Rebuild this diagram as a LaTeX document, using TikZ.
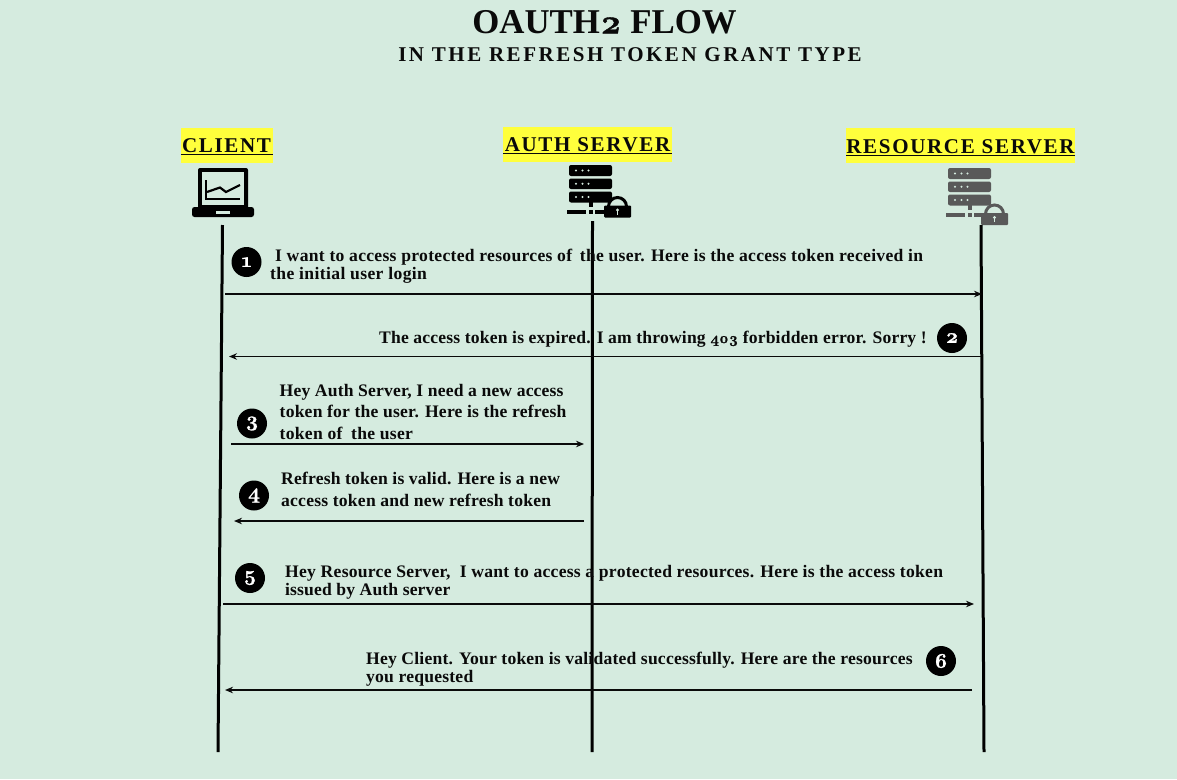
\documentclass[tikz,border=0pt]{standalone}
\usepackage{fontspec}
\setmainfont{Liberation Serif}
\newfontfamily\osnum[Numbers=OldStyle,BoldFeatures={FakeBold=1.2}]{Latin Modern Roman}
\usetikzlibrary{arrows.meta}
\definecolor{bgc}{HTML}{D5EBDF}
\definecolor{hl}{HTML}{FFFF3C}
\definecolor{ink}{HTML}{0A0A0A}
\newcommand{\fsz}[1]{\fontsize{#1}{#1}\selectfont}
\newcommand{\od}[1]{{\osnum\bfseries #1}}
\tikzset{
  life/.style={line width=3pt,draw=black},
  msg/.style={line width=1.3pt,draw=ink,-{Stealth[length=8pt,width=6.5pt]}},
  txt/.style={inner sep=0pt,anchor=base west,font=\fsz{17.6}\bfseries\addfontfeature{LetterSpace=#1},text=ink},
  num/.style={circle,fill=black,text=white,minimum size=30pt,inner sep=0pt,font=\fsz{21}\bfseries},
  headtxt/.style={inner sep=0pt,anchor=base,font=\fsz{21}\bfseries,text=ink},
  headbar/.style={line width=.9pt,draw=ink},
  pics/server/.style={code={
    \fill[#1,rounded corners=2pt] (0,0) rectangle (43,11);
    \fill[#1,rounded corners=2pt] (0,13.5) rectangle (43,24);
    \fill[#1,rounded corners=2pt] (0,26.5) rectangle (43,37.5);
    \foreach \yy in {5.5,18.8,32}{\foreach \xx in {7,13.5,19.5}{\fill[bgc] (\xx,\yy) circle (1.1pt);}}
    \fill[#1] (19.5,37) rectangle (23.5,42);
    \fill[#1] (-2,44.5) rectangle (17,48.5);
    \fill[#1] (19.5,44.5) rectangle (23.5,48.5);
    \fill[#1] (26,44.5) rectangle (38,48.5);
  }},
  pics/padlock/.style={code={
    \draw[#1,line width=3pt] (4.5,11) arc[start angle=180,end angle=360,radius=9];
    \fill[#1,rounded corners=1pt] (0,10) rectangle (27,22);
    \fill[bgc] (13.5,14.5) circle (1.6pt);
    \fill[bgc] (12.6,15) rectangle (14.4,19);
  }},
}
\begin{document}
\begin{tikzpicture}[x=1pt,y=-1pt]
\useasboundingbox[fill=bgc] (0,0) rectangle (1177,779);
% titles
\node[inner sep=0pt,anchor=base,font=\fsz{34.8}\bfseries,text=ink] (title) at (604.5,33.5) {OAUTH\od{2} FLOW};
\node[inner sep=0pt,anchor=base,font=\fsz{21}\bfseries,text=ink] (subtitle) at (630,61) {\addfontfeature{LetterSpace=12}IN THE REFRESH TOKEN GRANT TYPE};
% headers
\fill[hl] (181,128) rectangle (273,163);
\fill[hl] (503,127) rectangle (672,162);
\fill[hl] (846,128) rectangle (1075,163);
\node[headtxt] (client) at (226.5,152) {\addfontfeature{LetterSpace=8}CLIENT};
\node[headtxt] (auth) at (587.5,151) {\addfontfeature{LetterSpace=8}AUTH SERVER};
\node[headtxt] (res) at (960.5,153) {\addfontfeature{LetterSpace=8}RESOURCE SERVER};
\draw[headbar] (181,154.5) -- (273,154.5);
\draw[headbar] (503,153) -- (672,153);
\draw[headbar] (846,155.5) -- (1075,155.5);
% laptop
\fill[black,rounded corners=2pt] (198,168) rectangle (248,209);
\fill[bgc] (202,172) rectangle (244,205);
\draw[black,line width=2.2pt] (206,180) -- (206,199) -- (240,199);
\draw[black,line width=2.2pt] (207,192) -- (220,187.5) -- (226,192) -- (240,185);
\fill[black,rounded corners=2.5pt] (192,207) rectangle (254,217);
\fill[bgc] (216,211) rectangle (230,213.5);
% servers
\pic at (569,165) {server=black};
\pic at (604,195.5) {padlock=black};
\pic at (948,168) {server=black!65};
\pic at (981,203) {padlock=black!65};
% lifelines
\coordinate (c0) at (222.5,225); \coordinate (c1) at (218,752);
\coordinate (a0) at (592.5,221); \coordinate (a1) at (592,752);
\coordinate (r0) at (981,225); \coordinate (r1) at (984,752);
\draw[life] (c0) -- (c1);
\draw[life] (a0) -- (a1);
\draw[life] (r0) -- (r1);
% messages
\coordinate (m1a) at (225,294); \coordinate (m1b) at (982,294);
\coordinate (m2a) at (981,356.5); \coordinate (m2b) at (229,356.5);
\coordinate (m3a) at (231,444); \coordinate (m3b) at (584,444);
\coordinate (m4a) at (584,521); \coordinate (m4b) at (234,521);
\coordinate (m5a) at (223,604); \coordinate (m5b) at (974,604);
\coordinate (m6a) at (972,690); \coordinate (m6b) at (225,690);
\draw[msg] (m1a) -- (m1b);
\draw[msg] (m2a) -- (m2b);
\draw[msg] (m3a) -- (m3b);
\draw[msg] (m4a) -- (m4b);
\draw[msg] (m5a) -- (m5b);
\draw[msg] (m6a) -- (m6b);
% numbers
\node[num] (n1) at (246.5,262) {\od{1}};
\node[num] (n2) at (952,338) {\od{2}};
\node[num] (n3) at (252,423.5) {\od{3}};
\node[num] (n4) at (254,495.5) {\od{4}};
\node[num] (n5) at (250,578) {\od{5}};
\node[num] (n6) at (941,661) {\od{6}};
% texts
\node[txt=1.7] (t1a) at (275,261) {I want to access protected resources of\hspace{3pt} the user. Here is the access token received in};
\node[txt=2.1] (t1b) at (270,279) {the initial user login};
\node[txt=1.0] (t2) at (379,343) {The access token is expired. I am throwing {\fsz{15}\od{403}} forbidden error. Sorry !};
\node[txt=1.0] (t3a) at (279.5,396) {Hey Auth Server, I need a new access};
\node[txt=1.15] (t3b) at (279.5,417.5) {token for the user. Here is the refresh};
\node[txt=1.6] (t3c) at (279.5,439) {token of\hspace{4pt} the user};
\node[txt=1.0] (t4a) at (281,484.5) {Refresh token is valid. Here is a new};
\node[txt=1.25] (t4b) at (281,506) {access token and new refresh token};
\node[txt=1.5] (t5a) at (285,577) {Hey Resource Server,\ \ I want to access a protected resources. Here is the access token};
\node[txt=0.8] (t5b) at (285,595) {issued by Auth server};
\node[txt=1.1] (t6a) at (366,664) {Hey Client. Your token is validated successfully. Here are the resources};
\node[txt=1.2] (t6b) at (366,682) {you requested};
\end{tikzpicture}
\end{document}
